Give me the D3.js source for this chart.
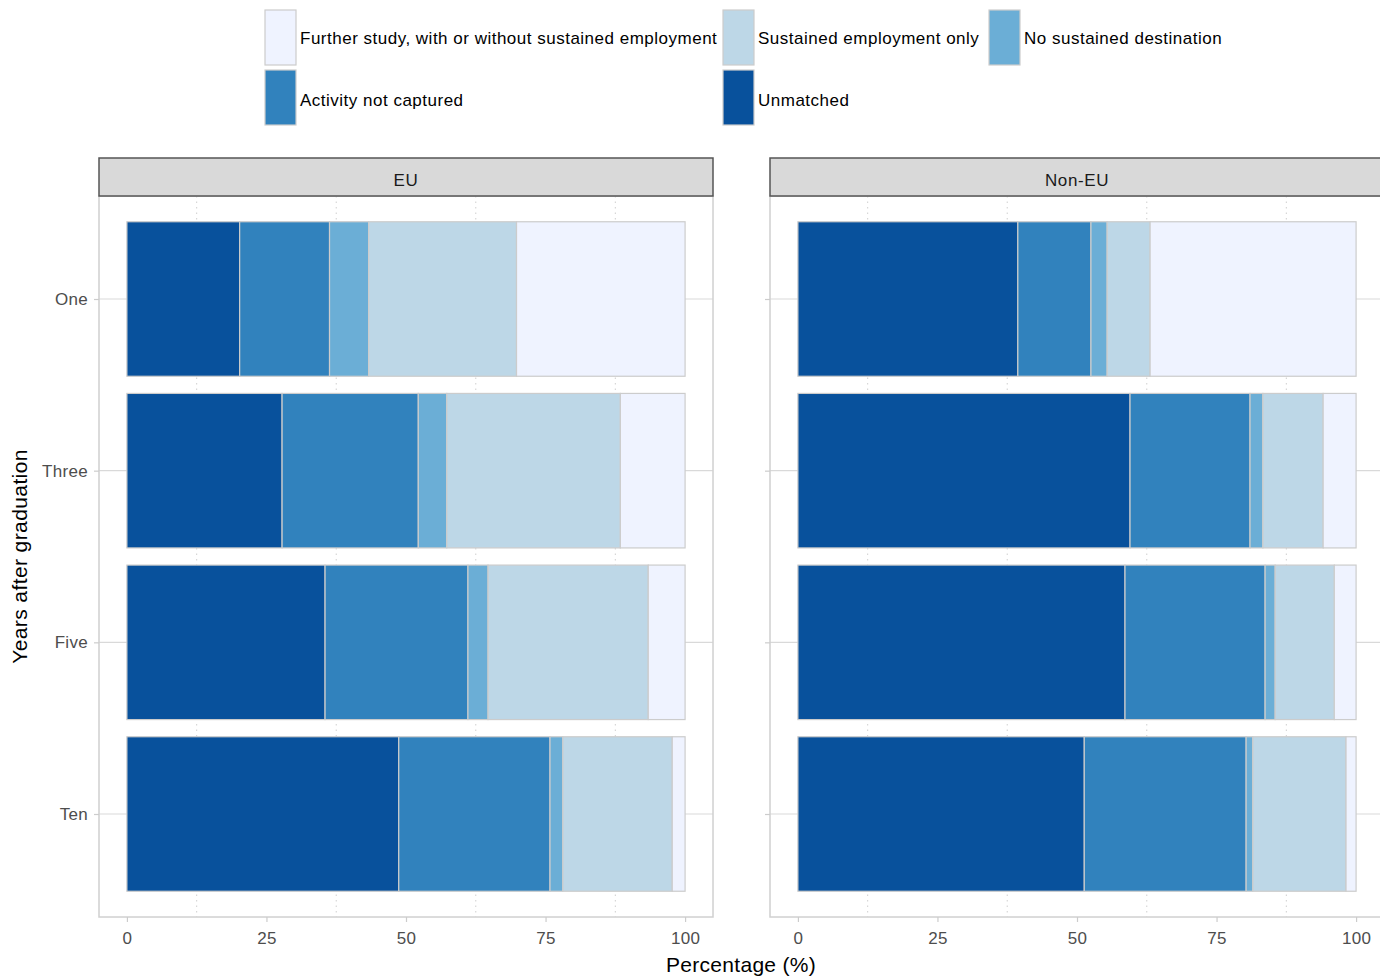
<!DOCTYPE html>
<html><head><meta charset="utf-8">
<script src="https://cdn.jsdelivr.net/npm/d3@7"></script>
<style>body{margin:0;background:#fff;} svg{display:block;font-family:"Liberation Sans",Arial,sans-serif;}</style>
</head><body><svg id="c" width="1380" height="978"></svg>
<script>
const years = ["One","Three","Five","Ten"];
const facets = ["EU","Non-EU"];
const seriesNames = ["Unmatched","Activity not captured","No sustained destination","Sustained employment only","Further study, with or without sustained employment"];
const seriesColors = ["#08519c","#3182bd","#6baed6","#bdd7e7","#eff3ff"];
// values per facet, per year (One, Three, Five, Ten)
const euUnmatched = [20.2, 27.8, 35.5, 48.7];
const euActivity  = [16.1, 24.4, 25.6, 27.1];
const euNoSust    = [7.0, 5.1, 3.6, 2.3];
const euSustEmp   = [26.5, 31.1, 28.7, 19.6];
const euFurther   = [30.2, 11.6, 6.6, 2.3];
const nonUnmatched = [39.4, 59.5, 58.6, 51.3];
const nonActivity  = [13.1, 21.5, 25.1, 29.0];
const nonNoSust    = [2.9, 2.3, 1.8, 1.2];
const nonSustEmp   = [7.7, 10.8, 10.6, 16.7];
const nonFurther   = [36.9, 5.9, 3.9, 1.8];
const xTicks = [0,25,50,75,100];
const legendOrder = [4,3,2,1,0];

const facetData = {
  "EU": [euUnmatched, euActivity, euNoSust, euSustEmp, euFurther],
  "Non-EU": [nonUnmatched, nonActivity, nonNoSust, nonSustEmp, nonFurther]
};

const svg = d3.select("#c");
const panelTop = 196, panelBottom = 917, stripTop = 158;
const panels = [{name:"EU", x0:99, x1:713},{name:"Non-EU", x0:770, x1:1384}];
const grid = "#d9d9d9";
const y = d3.scalePoint().domain(years).range([panelTop, panelBottom]).padding(0.6);
const bh = y.step()*0.9;

panels.forEach((p,pi) => {
  const x = d3.scaleLinear().domain([-5,105]).range([p.x0,p.x1]);
  const g = svg.append("g");
  [12.5,37.5,62.5,87.5].forEach(v => {
    g.append("line").attr("x1",x(v)).attr("x2",x(v)).attr("y1",panelTop).attr("y2",panelBottom)
      .attr("stroke","#cfcfcf").attr("stroke-width",1).attr("stroke-dasharray","1.5,4");
  });
  years.forEach(yr => {
    g.append("line").attr("x1",p.x0).attr("x2",p.x1).attr("y1",y(yr)).attr("y2",y(yr))
      .attr("stroke",grid).attr("stroke-width",1.2);
  });
  const series = facetData[p.name];
  years.forEach((yr,yi) => {
    let cum = 0;
    series.forEach((arr,si) => {
      const v = arr[yi];
      g.append("rect").attr("x",x(cum)).attr("width",x(cum+v)-x(cum))
        .attr("y",y(yr)-bh/2).attr("height",bh)
        .attr("fill",seriesColors[si]).attr("stroke","#cccccc").attr("stroke-width",1.2);
      cum += v;
    });
  });
  g.append("rect").attr("x",p.x0).attr("y",panelTop).attr("width",p.x1-p.x0).attr("height",panelBottom-panelTop)
    .attr("fill","none").attr("stroke","#d0d0d0").attr("stroke-width",1.5);
  g.append("rect").attr("x",p.x0).attr("y",stripTop).attr("width",p.x1-p.x0).attr("height",panelTop-stripTop)
    .attr("fill","#d9d9d9").attr("stroke","#555").attr("stroke-width",1.5);
  g.append("text").attr("x",(p.x0+p.x1)/2).attr("y",(stripTop+panelTop)/2+3).attr("dy","0.35em")
    .attr("text-anchor","middle").attr("font-size",17).attr("letter-spacing",0.6).attr("fill","#1a1a1a").text(p.name);
  const ax = g.append("g").attr("transform",`translate(0,${panelBottom})`)
    .call(d3.axisBottom(x).tickValues(xTicks).tickSize(5).tickPadding(10));
  ax.select(".domain").remove();
  ax.selectAll(".tick line").attr("stroke","#cccccc").attr("stroke-width",1.2);
  ax.selectAll(".tick text").attr("font-size",17).attr("letter-spacing",0.3).attr("fill","#4d4d4d").attr("font-family","Liberation Sans, Arial, sans-serif");
  const ay = g.append("g").attr("transform",`translate(${p.x0},0)`)
    .call(d3.axisLeft(y).tickSize(5).tickPadding(6));
  ay.select(".domain").remove();
  ay.selectAll(".tick line").attr("stroke","#cccccc").attr("stroke-width",1.2);
  ay.selectAll(".tick text").attr("font-size",17).attr("letter-spacing",0.3).attr("fill","#4d4d4d").attr("font-family","Liberation Sans, Arial, sans-serif");
  if (pi===1) ay.selectAll(".tick text").remove();
});

svg.append("text").attr("x",741).attr("y",972).attr("text-anchor","middle").attr("font-size",21).attr("letter-spacing",0.3).attr("fill","#000").text("Percentage (%)");
svg.append("text").attr("transform",`translate(27,${(panelTop+panelBottom)/2}) rotate(-90)`)
  .attr("text-anchor","middle").attr("font-size",21).attr("letter-spacing",0.4).attr("fill","#000").text("Years after graduation");

const legPos = [{x:265,y:10},{x:723,y:10},{x:989,y:10},{x:265,y:70},{x:723,y:70}];
legendOrder.forEach((si,i) => {
  const lp = legPos[i];
  svg.append("rect").attr("x",lp.x).attr("y",lp.y).attr("width",31).attr("height",55)
    .attr("fill",seriesColors[si]).attr("stroke","#cccccc").attr("stroke-width",1.2);
  svg.append("text").attr("x",lp.x+35).attr("y",lp.y+28+(i>=3?2:0)).attr("dy","0.35em").attr("font-size",17)
    .attr("letter-spacing",0.5).attr("fill","#000").text(seriesNames[si]);
});
</script></body></html>
